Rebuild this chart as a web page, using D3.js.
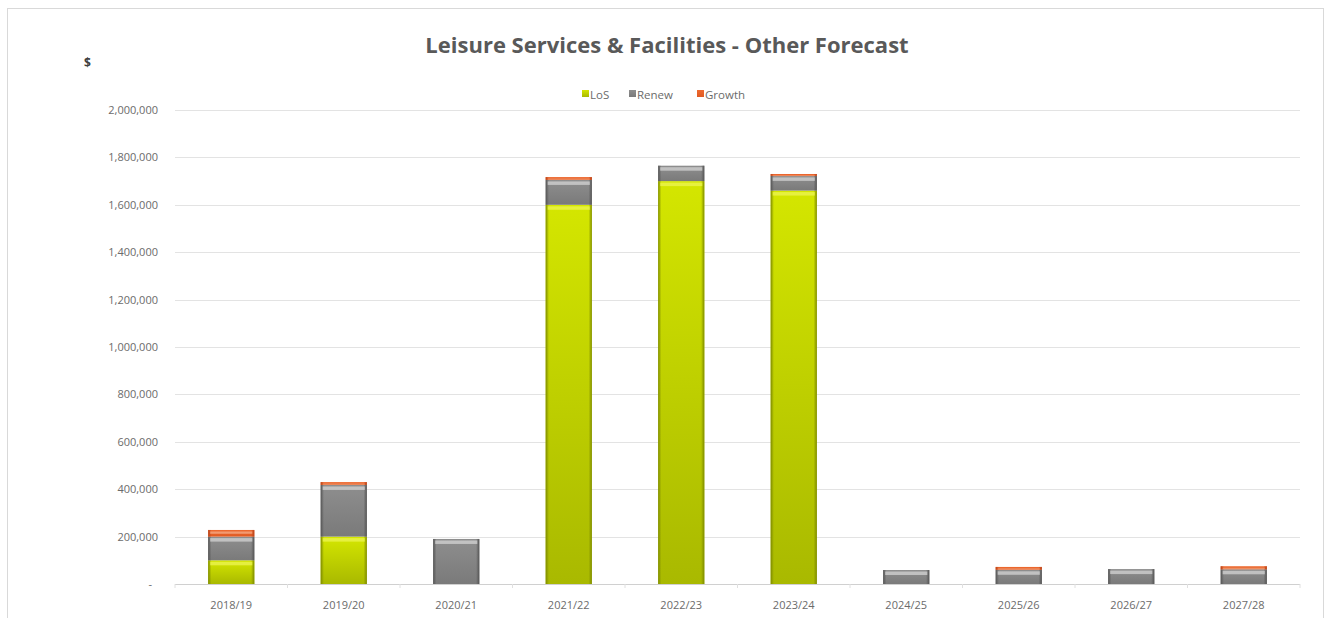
<!DOCTYPE html>
<html><head><meta charset="utf-8">
<script src="https://cdn.jsdelivr.net/npm/d3@7"></script>
<style>body{margin:0;background:#fff;font-family:"Open Sans",sans-serif;}</style>
</head><body><svg id="c" width="1330" height="618"></svg>
<script>
const categories = ["2018/19","2019/20","2020/21","2021/22","2022/23","2023/24","2024/25","2025/26","2026/27","2027/28"];
const seriesNames = ["LoS","Renew","Growth"];
const losValues    = [100000, 200000, 0, 1600000, 1700000, 1660000, 0, 0, 0, 0];
const renewValues  = [100000, 218000, 190000, 105000, 65000, 62000, 59000, 60000, 63000, 62000];
const growthValues = [28000, 12000, 0, 12000, 0, 8000, 0, 12000, 0, 13000];
const yTicks = [0,200000,400000,600000,800000,1000000,1200000,1400000,1600000,1800000,2000000];

const svg = d3.select("#c");
const m={left:175,right:1300,top:110,bottom:584};
svg.append("rect").attr("x",7.5).attr("y",8.5).attr("width",1316).attr("height",620).attr("fill","#fff").attr("stroke","#d9d9d9");

const x = d3.scaleBand().domain(categories).range([m.left,m.right]).paddingInner(0.59).paddingOuter(0.295);
const y = d3.scaleLinear().domain([0,2000000]).range([m.bottom,m.top]);

const defs = svg.append("defs");
const pal = {
  LoS:{edge:"#7f8c00",top:"#d4e600",bot:"#a9b900",light:"#eef55a"},
  Renew:{edge:"#555555",top:"#8e8e8e",bot:"#7a7a7a",light:"#d8d8d8"},
  Growth:{edge:"#b8431a",top:"#ee6a30",bot:"#e05a22",light:"#f7b08f"}
};
Object.entries(pal).forEach(([k,c])=>{
  const g=defs.append("linearGradient").attr("id","v"+k)
    .attr("x1",0).attr("x2",0).attr("y1",0).attr("y2",1);
  g.append("stop").attr("offset",0).attr("stop-color",c.top);
  g.append("stop").attr("offset",1).attr("stop-color",c.bot);
  const e=defs.append("linearGradient").attr("id","e"+k).attr("x1",0).attr("x2",1).attr("y1",0).attr("y2",0);
  [[0,c.edge,1],[0.07,c.edge,0],[0.93,c.edge,0],[1,c.edge,1]].forEach(([o,col,op])=>e.append("stop").attr("offset",o).attr("stop-color",col).attr("stop-opacity",op));
});

// gridlines
svg.append("g").selectAll("line").data(yTicks.slice(1)).join("line")
  .attr("x1",m.left).attr("x2",m.right).attr("y1",d=>Math.round(y(d))+0.5).attr("y2",d=>Math.round(y(d))+0.5)
  .attr("stroke","#e3e3e3").attr("stroke-width",1);

// y axis labels
const fmt=d3.format(",");
svg.append("g").selectAll("text").data(yTicks).join("text")
  .attr("x",d=>d===0?152:158).attr("y",d=>y(d)+4).attr("text-anchor","end")
  .attr("font-size",11).attr("fill","#6b6b6b").text(d=>d===0?"-":fmt(d));

// stacked data
const rows = categories.map((c,i)=>({cat:c,LoS:losValues[i],Renew:renewValues[i],Growth:growthValues[i]}));
const stack = d3.stack().keys(seriesNames)(rows);
const gb = svg.append("g");
stack.forEach(layer=>{
  const k=layer.key;
  layer.forEach(d=>{
    const v=d[1]-d[0]; if(v<=0) return;
    const bx=x(d.data.cat), bw=x.bandwidth(), y0=y(d[0]), y1=y(d[1]);
    gb.append("rect").attr("x",bx).attr("y",y1).attr("width",bw).attr("height",y0-y1).attr("fill","url(#v"+k+")");
    gb.append("rect").attr("x",bx).attr("y",y1).attr("width",bw).attr("height",y0-y1).attr("fill","url(#e"+k+")");
    const hh=Math.min(3.5,(y0-y1)*0.35);
    gb.append("rect").attr("x",bx+2).attr("y",y1+1.5).attr("width",bw-4).attr("height",hh).attr("fill",pal[k].light).attr("opacity",0.7);
  });
});

// baseline
svg.append("line").attr("x1",m.left).attr("x2",m.right).attr("y1",m.bottom+0.5).attr("y2",m.bottom+0.5).attr("stroke","#d0d0d0");
svg.append("g").selectAll("line").data(d3.range(categories.length+1)).join("line")
  .attr("x1",i=>m.left+i*x.step()).attr("x2",i=>m.left+i*x.step()).attr("y1",m.bottom).attr("y2",m.bottom+4).attr("stroke","#e0e0e0");

// x labels
svg.append("g").selectAll("text").data(categories).join("text")
  .attr("x",d=>x(d)+x.bandwidth()/2).attr("y",609).attr("text-anchor","middle")
  .attr("font-size",11).attr("fill","#6b6b6b").text(d=>d);

// title
svg.append("text").attr("x",667).attr("y",53).attr("text-anchor","middle").attr("font-size",22).attr("font-weight","bold").attr("fill","#595959")
  .text("Leisure Services & Facilities - Other Forecast");
svg.append("text").attr("x",84).attr("y",67).attr("font-size",12).attr("font-weight","bold").attr("fill","#404040").text("$");

// legend
const lg=svg.append("g");
const legX=[582,629,697];
seriesNames.forEach((s,i)=>{
  lg.append("rect").attr("x",legX[i]).attr("y",90).attr("width",7).attr("height",7).attr("fill","url(#v"+s+")");
  lg.append("text").attr("x",legX[i]+8).attr("y",98.5).attr("font-size",11.5).attr("fill","#6b6b6b").text(s);
});
</script></body></html>
